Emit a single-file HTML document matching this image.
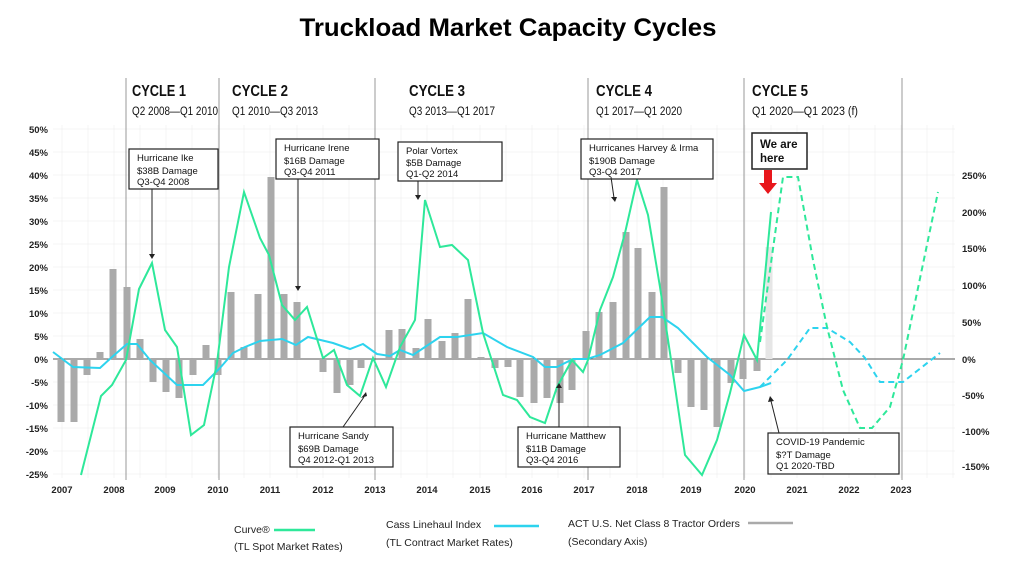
<!DOCTYPE html>
<html><head><meta charset="utf-8"><style>
body{margin:0;background:#fff;}
svg{display:block;font-family:"Liberation Sans",sans-serif;}
.ax{font-size:9.5px;font-weight:bold;fill:#222;}
.ann{font-size:9.5px;fill:#111;}
.cy{font-size:16px;font-weight:bold;fill:#111;}
.cs{font-size:11.5px;fill:#111;}
.lg{font-size:10.5px;fill:#222;}
</style></head><body>
<svg width="1024" height="565" viewBox="0 0 1024 565">
<text x="508" y="36" text-anchor="middle" font-size="25" font-weight="bold" fill="#000" textLength="417" lengthAdjust="spacingAndGlyphs">Truckload Market Capacity Cycles</text>
<!-- grid -->
<g stroke="#f1f1f1" stroke-width="0.7">
<path d="M53 129H955M53 152H955M53 175H955M53 198H955M53 221H955M53 244H955M53 267H955M53 290H955M53 313H955M53 336H955M53 382H955M53 405H955M53 428H955M53 451H955M53 474H955"/>
<path d="M62 125V478M88 125V478M114 125V478M140 125V478M166 125V478M192 125V478M218 125V478M244 125V478M270 125V478M297 125V478M323 125V478M349 125V478M375 125V478M401 125V478M427 125V478M453 125V478M480 125V478M506 125V478M532 125V478M558 125V478M584 125V478M610 125V478M637 125V478M663 125V478M691 125V478M717 125V478M745 125V478M771 125V478M797 125V478M823 125V478M849 125V478M875 125V478M901 125V478M927 125V478M953 125V478"/>
</g>
<!-- cycle lines -->
<g stroke="#999" stroke-width="1">
<path d="M126 78V480M219 78V480M375 78V480M588 78V480M744 78V480M902 78V480"/>
</g>
<line x1="53" y1="359" x2="955" y2="359" stroke="#555" stroke-width="1"/>
<!-- bars -->
<g fill="#aaa">
<rect x="57.5" y="359" width="7" height="63"/><rect x="70.5" y="359" width="7" height="63"/><rect x="83.5" y="359" width="7" height="16"/><rect x="96.5" y="352" width="7" height="7"/><rect x="109.5" y="269" width="7" height="90"/><rect x="123.5" y="287" width="7" height="72"/><rect x="136.5" y="339" width="7" height="20"/><rect x="149.5" y="359" width="7" height="23"/><rect x="162.5" y="359" width="7" height="33"/><rect x="175.5" y="359" width="7" height="39"/><rect x="189.5" y="359" width="7" height="16"/><rect x="202.5" y="345" width="7" height="14"/><rect x="214.5" y="359" width="7" height="16"/><rect x="227.5" y="292" width="7" height="67"/><rect x="240.5" y="347" width="7" height="12"/><rect x="254.5" y="294" width="7" height="65"/><rect x="267.5" y="177" width="7" height="182"/><rect x="280.5" y="294" width="7" height="65"/><rect x="293.5" y="302" width="7" height="57"/><rect x="319.5" y="359" width="7" height="13"/><rect x="333.5" y="359" width="7" height="34"/><rect x="346.5" y="359" width="7" height="26"/><rect x="357.5" y="359" width="7" height="9"/><rect x="385.5" y="330" width="7" height="29"/><rect x="398.5" y="329" width="7" height="30"/><rect x="412.5" y="348" width="7" height="11"/><rect x="424.5" y="319" width="7" height="40"/><rect x="438.5" y="341" width="7" height="18"/><rect x="451.5" y="333" width="7" height="26"/><rect x="464.5" y="299" width="7" height="60"/><rect x="477.5" y="357" width="7" height="2"/><rect x="491.5" y="359" width="7" height="9"/><rect x="504.5" y="359" width="7" height="8"/><rect x="516.5" y="359" width="7" height="38"/><rect x="530.5" y="359" width="7" height="44"/><rect x="543.5" y="359" width="7" height="39"/><rect x="556.5" y="359" width="7" height="44"/><rect x="568.5" y="359" width="7" height="31"/><rect x="582.5" y="331" width="7" height="28"/><rect x="595.5" y="312" width="7" height="47"/><rect x="609.5" y="302" width="7" height="57"/><rect x="622.5" y="232" width="7" height="127"/><rect x="634.5" y="248" width="7" height="111"/><rect x="648.5" y="292" width="7" height="67"/><rect x="660.5" y="187" width="7" height="172"/><rect x="674.5" y="359" width="7" height="14"/><rect x="687.5" y="359" width="7" height="48"/><rect x="700.5" y="359" width="7" height="51"/><rect x="713.5" y="359" width="7" height="68"/><rect x="727.5" y="359" width="7" height="24"/><rect x="739.5" y="359" width="7" height="20"/><rect x="753.5" y="359" width="7" height="12"/>
<rect x="765.5" y="247" width="7" height="112" fill="#e6e6e6"/>
</g>
<!-- Cass -->
<polyline fill="none" stroke="#2dd3ee" stroke-width="2" points="53,352 73,367 100,368 112,357 127,344 137,344 150,360 177,385 203,385 220,368 233,353 245,347 260,341 282,339 296,345 308,337 333,343 350,349 363,344 377,354 390,356 400,350 413,355 440,337 457,337 483,333 507,347 533,357 545,367 557,367 573,359 587,359 600,355 623,343 650,317 662,317 678,328 707,357 730,375 744,391 760,387 771,383"/>
<polyline fill="none" stroke="#2dd3ee" stroke-width="2" stroke-dasharray="6,4" points="760,387 787,360 810,328 827,328 850,342 865,358 880,382 903,382 940,353"/>
<!-- Curve -->
<polyline fill="none" stroke="#2ee89a" stroke-width="2" points="81,475 101,396 112,385 126,360 139,289 152,263 165,330 177,347 191,435 204,425 217,363 229,267 244,192 260,238 269,255 282,305 295,320 307,307 323,358 334,350 347,385 360,396 373,358 386,387 400,347 415,320 425,200 440,247 452,245 468,260 483,333 503,395 517,400 530,417 545,423 557,387 572,360 583,372 588,360 600,310 613,277 625,233 637,180 648,215 660,287 670,353 685,455 702,475 717,440 730,393 744,335 757,360 771,212"/>
<polyline fill="none" stroke="#2ee89a" stroke-width="2" stroke-dasharray="6,4" points="760,342 783,177 798,177 813,260 827,327 843,390 860,428 872,428 890,407 903,360 938,192"/>
<!-- left axis -->
<g class="ax" text-anchor="end">
<text x="48" y="133">50%</text><text x="48" y="156">45%</text><text x="48" y="179">40%</text><text x="48" y="202">35%</text><text x="48" y="225">30%</text><text x="48" y="248">25%</text><text x="48" y="271">20%</text><text x="48" y="294">15%</text><text x="48" y="317">10%</text><text x="48" y="340">5%</text><text x="48" y="363">0%</text><text x="48" y="386">-5%</text><text x="48" y="409">-10%</text><text x="48" y="432">-15%</text><text x="48" y="455">-20%</text><text x="48" y="478">-25%</text>
</g>
<g class="ax">
<text x="962" y="179">250%</text><text x="962" y="216">200%</text><text x="962" y="252">150%</text><text x="962" y="289">100%</text><text x="962" y="326">50%</text><text x="962" y="363">0%</text><text x="962" y="399">-50%</text><text x="962" y="435">-100%</text><text x="962" y="470">-150%</text>
</g>
<g class="ax" text-anchor="middle" font-size="9">
<text x="62" y="493">2007</text><text x="114" y="493">2008</text><text x="165" y="493">2009</text><text x="218" y="493">2010</text><text x="270" y="493">2011</text><text x="323" y="493">2012</text><text x="375" y="493">2013</text><text x="427" y="493">2014</text><text x="480" y="493">2015</text><text x="532" y="493">2016</text><text x="584" y="493">2017</text><text x="637" y="493">2018</text><text x="691" y="493">2019</text><text x="745" y="493">2020</text><text x="797" y="493">2021</text><text x="849" y="493">2022</text><text x="901" y="493">2023</text>
</g>
<!-- cycles -->
<g class="cy"><text x="132" y="96" textLength="54" lengthAdjust="spacingAndGlyphs">CYCLE 1</text><text x="232" y="96" textLength="56" lengthAdjust="spacingAndGlyphs">CYCLE 2</text><text x="409" y="96" textLength="56" lengthAdjust="spacingAndGlyphs">CYCLE 3</text><text x="596" y="96" textLength="56" lengthAdjust="spacingAndGlyphs">CYCLE 4</text><text x="752" y="96" textLength="56" lengthAdjust="spacingAndGlyphs">CYCLE 5</text></g>
<g class="cs"><text x="132" y="115" textLength="86" lengthAdjust="spacingAndGlyphs">Q2 2008—Q1 2010</text><text x="232" y="115" textLength="86" lengthAdjust="spacingAndGlyphs">Q1 2010—Q3 2013</text><text x="409" y="115" textLength="86" lengthAdjust="spacingAndGlyphs">Q3 2013—Q1 2017</text><text x="596" y="115" textLength="86" lengthAdjust="spacingAndGlyphs">Q1 2017—Q1 2020</text><text x="752" y="115" textLength="106" lengthAdjust="spacingAndGlyphs">Q1 2020—Q1 2023 (f)</text></g>
<!-- annotations -->
<g fill="#fff" stroke="#222" stroke-width="1.2">
<rect x="129" y="149" width="89" height="40"/><rect x="276" y="139" width="103" height="40"/><rect x="290" y="427" width="103" height="40"/><rect x="398" y="142" width="104" height="39"/><rect x="518" y="427" width="102" height="40"/><rect x="581" y="139" width="132" height="40"/><rect x="768" y="433" width="131" height="41"/><rect x="752" y="133" width="55" height="36" stroke-width="1.5"/>
</g>
<g stroke="#222" stroke-width="1">
<path d="M152 189V254M298 179V286M343 427L364 397M418 181V195M559 427V386M611 177L614 198M779 433L771 401"/>
</g>
<g fill="#222">
<path d="M149 254h6l-3 5zM295 286h6l-3 5zM361 398l6 -2 -1 -4zM415 195h6l-3 5zM556 388h6l-3 -5zM611 197h6l-2 5zM768 402l6 -1 -4 -5z"/>
</g>
<g class="ann">
<text x="137" y="161">Hurricane Ike</text><text x="137" y="174">$38B Damage</text><text x="137" y="185">Q3-Q4 2008</text>
<text x="284" y="151">Hurricane Irene</text><text x="284" y="164">$16B Damage</text><text x="284" y="175">Q3-Q4 2011</text>
<text x="298" y="439">Hurricane Sandy</text><text x="298" y="452">$69B Damage</text><text x="298" y="463">Q4 2012-Q1 2013</text>
<text x="406" y="154">Polar Vortex</text><text x="406" y="166">$5B Damage</text><text x="406" y="177">Q1-Q2 2014</text>
<text x="526" y="439">Hurricane Matthew</text><text x="526" y="452">$11B Damage</text><text x="526" y="463">Q3-Q4 2016</text>
<text x="589" y="151">Hurricanes Harvey &amp; Irma</text><text x="589" y="164">$190B Damage</text><text x="589" y="175">Q3-Q4 2017</text>
<text x="776" y="445">COVID-19 Pandemic</text><text x="776" y="458">$?T Damage</text><text x="776" y="469">Q1 2020-TBD</text>
</g>
<text x="760" y="148" font-size="11.5" font-weight="bold" fill="#111">We are</text>
<text x="760" y="162" font-size="11.5" font-weight="bold" fill="#111">here</text>
<path d="M764 170h8v13h5l-9 11 -9 -11h5z" fill="#e8161b"/>
<!-- legend -->
<g class="lg">
<text x="234" y="533">Curve®</text><text x="234" y="550">(TL Spot Market Rates)</text>
<text x="386" y="528">Cass Linehaul Index</text><text x="386" y="546">(TL Contract Market Rates)</text>
<text x="568" y="527">ACT U.S. Net Class 8 Tractor Orders</text><text x="568" y="545">(Secondary Axis)</text>
</g>
<line x1="274" y1="530" x2="315" y2="530" stroke="#2ee89a" stroke-width="2.5"/>
<line x1="494" y1="526" x2="539" y2="526" stroke="#2dd3ee" stroke-width="2.5"/>
<line x1="748" y1="523" x2="793" y2="523" stroke="#aaa" stroke-width="2.5"/>
</svg>
</body></html>
